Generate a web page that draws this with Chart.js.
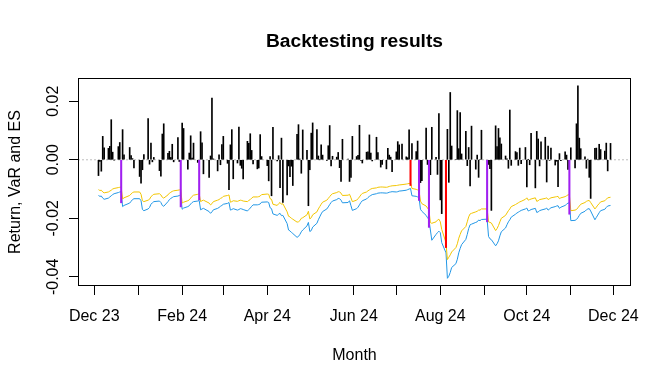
<!DOCTYPE html>
<html lang="en">
<head>
<meta charset="UTF-8">
<title>Backtesting results</title>
<script src="https://cdn.jsdelivr.net/npm/chart.js"></script>
<style>
  html, body { margin: 0; padding: 0; background: #fff; }
  #wrap { width: 672px; height: 384px; }
</style>
</head>
<body>
<div id="wrap"><canvas id="chart" width="672" height="384"></canvas></div>
<script>
// trading days shown in the backtest
const tradeDates = [
  "2023-12-04","2023-12-05","2023-12-06","2023-12-07","2023-12-08","2023-12-11","2023-12-12","2023-12-13","2023-12-14","2023-12-15","2023-12-18","2023-12-19","2023-12-20","2023-12-21","2023-12-22","2023-12-26","2023-12-27","2023-12-28","2023-12-29",
  "2024-01-02","2024-01-03","2024-01-04","2024-01-05","2024-01-08","2024-01-09","2024-01-10","2024-01-11","2024-01-12","2024-01-16","2024-01-17","2024-01-18","2024-01-19","2024-01-22","2024-01-23","2024-01-24","2024-01-25","2024-01-26","2024-01-29","2024-01-30","2024-01-31",
  "2024-02-01","2024-02-02","2024-02-05","2024-02-06","2024-02-07","2024-02-08","2024-02-09","2024-02-12","2024-02-13","2024-02-14","2024-02-15","2024-02-16","2024-02-20","2024-02-21","2024-02-22","2024-02-23","2024-02-26","2024-02-27","2024-02-28","2024-02-29",
  "2024-03-01","2024-03-04","2024-03-05","2024-03-06","2024-03-07","2024-03-08","2024-03-11","2024-03-12","2024-03-13","2024-03-14","2024-03-15","2024-03-18","2024-03-19","2024-03-20","2024-03-21","2024-03-22","2024-03-25","2024-03-26","2024-03-27","2024-03-28",
  "2024-04-01","2024-04-02","2024-04-03","2024-04-04","2024-04-05","2024-04-08","2024-04-09","2024-04-10","2024-04-11","2024-04-12","2024-04-15","2024-04-16","2024-04-17","2024-04-18","2024-04-19","2024-04-22","2024-04-23","2024-04-24","2024-04-25","2024-04-26","2024-04-29","2024-04-30",
  "2024-05-01","2024-05-02","2024-05-03","2024-05-06","2024-05-07","2024-05-08","2024-05-09","2024-05-10","2024-05-13","2024-05-14","2024-05-15","2024-05-16","2024-05-17","2024-05-20","2024-05-21","2024-05-22","2024-05-23","2024-05-24","2024-05-28","2024-05-29","2024-05-30","2024-05-31",
  "2024-06-03","2024-06-04","2024-06-05","2024-06-06","2024-06-07","2024-06-10","2024-06-11","2024-06-12","2024-06-13","2024-06-14","2024-06-17","2024-06-18","2024-06-20","2024-06-21","2024-06-24","2024-06-25","2024-06-26","2024-06-27","2024-06-28",
  "2024-07-01","2024-07-02","2024-07-03","2024-07-05","2024-07-08","2024-07-09","2024-07-10","2024-07-11","2024-07-12","2024-07-15","2024-07-16","2024-07-17","2024-07-18","2024-07-19","2024-07-22","2024-07-23","2024-07-24","2024-07-25","2024-07-26","2024-07-29","2024-07-30","2024-07-31",
  "2024-08-01","2024-08-02","2024-08-05","2024-08-06","2024-08-07","2024-08-08","2024-08-09","2024-08-12","2024-08-13","2024-08-14","2024-08-15","2024-08-16","2024-08-19","2024-08-20","2024-08-21","2024-08-22","2024-08-23","2024-08-26","2024-08-27","2024-08-28","2024-08-29","2024-08-30",
  "2024-09-03","2024-09-04","2024-09-05","2024-09-06","2024-09-09","2024-09-10","2024-09-11","2024-09-12","2024-09-13","2024-09-16","2024-09-17","2024-09-18","2024-09-19","2024-09-20","2024-09-23","2024-09-24","2024-09-25","2024-09-26","2024-09-27","2024-09-30",
  "2024-10-01","2024-10-02","2024-10-03","2024-10-04","2024-10-07","2024-10-08","2024-10-09","2024-10-10","2024-10-11","2024-10-14","2024-10-15","2024-10-16","2024-10-17","2024-10-18","2024-10-21","2024-10-22","2024-10-23","2024-10-24","2024-10-25","2024-10-28","2024-10-29","2024-10-30","2024-10-31",
  "2024-11-01","2024-11-04","2024-11-05","2024-11-06","2024-11-07","2024-11-08","2024-11-11","2024-11-12","2024-11-13","2024-11-14","2024-11-15","2024-11-18","2024-11-19","2024-11-20","2024-11-21","2024-11-22","2024-11-25","2024-11-26","2024-11-27","2024-11-29"
];

// daily returns
const returns = [
  -0.0054,-0.0006,-0.0039,0.0080,0.0041,0.0039,0.0046,0.0137,0.0026,-0.0001,0.0045,0.0059,-0.0147,0.0103,0.0017,0.0042,0.0014,0.0004,-0.0028,
  -0.0057,-0.0080,-0.0034,0.0018,0.0141,-0.0015,0.0057,-0.0007,0.0008,-0.0037,-0.0056,0.0088,0.0123,0.0022,0.0029,0.0008,0.0053,-0.0007,0.0076,-0.0006,-0.0161,
  0.0125,0.0107,-0.0032,0.0023,0.0082,0.0006,0.0057,-0.0009,-0.0137,0.0096,0.0058,-0.0048,-0.0060,0.0013,0.0211,0.0003,-0.0038,0.0017,-0.0017,0.0052,
  0.0080,-0.0012,-0.0102,0.0051,0.0103,-0.0065,-0.0011,0.0112,-0.0019,-0.0029,-0.0065,0.0063,0.0056,0.0089,0.0032,-0.0014,-0.0031,-0.0028,0.0086,0.0011,
  -0.0020,-0.0072,0.0011,-0.0123,0.0111,-0.0004,0.0014,-0.0095,0.0074,-0.0146,-0.0120,-0.0021,-0.0058,-0.0022,-0.0088,0.0087,0.0120,0.0002,-0.0046,0.0102,0.0032,-0.0157,
  -0.0034,0.0091,0.0126,0.0103,0.0013,0.0000,0.0051,0.0016,-0.0002,0.0048,0.0117,-0.0021,0.0012,0.0009,0.0025,-0.0027,-0.0074,0.0070,0.0002,-0.0074,-0.0060,0.0080,
  0.0011,0.0015,0.0118,-0.0002,-0.0011,0.0026,0.0027,0.0085,0.0023,-0.0004,0.0077,0.0025,-0.0025,-0.0016,-0.0031,0.0039,0.0016,0.0009,-0.0041,
  0.0027,0.0062,0.0051,0.0054,0.0010,0.0007,0.0102,-0.0088,0.0055,0.0028,0.0064,-0.0139,-0.0078,-0.0071,0.0108,-0.0016,-0.0231,-0.0051,0.0111,0.0008,-0.0050,0.0158,
  -0.0137,-0.0184,-0.0300,0.0104,-0.0077,0.0230,0.0047,0.0000,0.0168,0.0038,0.0161,0.0020,0.0097,-0.0020,0.0042,-0.0089,0.0115,-0.0032,0.0016,-0.0060,0.0000,0.0101,
  -0.0212,-0.0016,-0.0030,-0.0173,0.0116,0.0045,0.0107,0.0075,0.0054,0.0013,0.0003,-0.0029,0.0170,-0.0019,0.0028,0.0025,-0.0019,0.0040,-0.0013,0.0042,
  -0.0093,0.0001,-0.0017,0.0090,-0.0096,0.0097,0.0071,-0.0021,0.0061,0.0077,-0.0076,0.0047,-0.0002,0.0040,-0.0018,-0.0005,-0.0092,0.0021,-0.0003,0.0027,0.0016,-0.0033,-0.0186,
  0.0041,-0.0028,0.0123,0.0253,0.0074,0.0038,0.0010,-0.0029,0.0002,-0.0060,-0.0132,0.0039,0.0040,0.0000,0.0053,0.0035,0.0030,0.0057,-0.0038,0.0056
];

// value at risk forecast
const varLine = [
  -0.0102,-0.0105,-0.0104,-0.0110,-0.0113,-0.0110,-0.0107,-0.0104,-0.0100,-0.0098,-0.0095,-0.0094,-0.0093,-0.0134,-0.0130,-0.0122,-0.0117,-0.0112,-0.0110,
  -0.0110,-0.0118,-0.0140,-0.0143,-0.0138,-0.0135,-0.0126,-0.0122,-0.0118,-0.0116,-0.0120,-0.0128,-0.0131,-0.0120,-0.0114,-0.0111,-0.0108,-0.0106,-0.0104,-0.0103,-0.0102,
  -0.0148,-0.0145,-0.0140,-0.0137,-0.0131,-0.0125,-0.0121,-0.0118,-0.0116,-0.0143,-0.0140,-0.0138,-0.0148,-0.0154,-0.0150,-0.0143,-0.0138,-0.0136,-0.0132,-0.0130,
  -0.0125,-0.0122,-0.0120,-0.0145,-0.0143,-0.0140,-0.0142,-0.0140,-0.0138,-0.0139,-0.0141,-0.0143,-0.0139,-0.0136,-0.0131,-0.0127,-0.0127,-0.0126,-0.0124,-0.0119,
  -0.0117,-0.0118,-0.0133,-0.0135,-0.0152,-0.0156,-0.0150,-0.0146,-0.0152,-0.0150,-0.0178,-0.0193,-0.0195,-0.0200,-0.0203,-0.0213,-0.0212,-0.0208,-0.0200,-0.0198,-0.0188,-0.0176,
  -0.0202,-0.0198,-0.0188,-0.0178,-0.0168,-0.0160,-0.0152,-0.0145,-0.0138,-0.0132,-0.0126,-0.0120,-0.0116,-0.0112,-0.0109,-0.0110,-0.0114,-0.0122,-0.0121,-0.0118,-0.0130,-0.0143,
  -0.0138,-0.0133,-0.0127,-0.0120,-0.0115,-0.0110,-0.0106,-0.0103,-0.0100,-0.0098,-0.0096,-0.0094,-0.0093,-0.0093,-0.0094,-0.0093,-0.0091,-0.0090,-0.0089,
  -0.0088,-0.0087,-0.0086,-0.0085,-0.0083,-0.0082,-0.0081,-0.0080,-0.0098,-0.0101,-0.0103,-0.0106,-0.0141,-0.0150,-0.0158,-0.0165,-0.0172,-0.0215,-0.0217,-0.0212,-0.0206,-0.0203,
  -0.0212,-0.0238,-0.0283,-0.0341,-0.0333,-0.0325,-0.0315,-0.0300,-0.0287,-0.0268,-0.0255,-0.0243,-0.0228,-0.0212,-0.0195,-0.0185,-0.0183,-0.0178,-0.0176,-0.0172,-0.0172,-0.0168,
  -0.0168,-0.0212,-0.0214,-0.0216,-0.0242,-0.0235,-0.0225,-0.0212,-0.0200,-0.0190,-0.0182,-0.0174,-0.0168,-0.0160,-0.0153,-0.0150,-0.0147,-0.0144,-0.0142,-0.0135,
  -0.0130,-0.0138,-0.0136,-0.0134,-0.0130,-0.0142,-0.0140,-0.0136,-0.0135,-0.0132,-0.0130,-0.0136,-0.0133,-0.0130,-0.0127,-0.0126,-0.0125,-0.0133,-0.0130,-0.0126,-0.0123,-0.0120,-0.0119,
  -0.0174,-0.0172,-0.0170,-0.0164,-0.0158,-0.0152,-0.0146,-0.0142,-0.0140,-0.0139,-0.0146,-0.0168,-0.0162,-0.0155,-0.0150,-0.0144,-0.0140,-0.0135,-0.0130,-0.0128
];

// expected shortfall forecast
const esLine = [
  -0.0122,-0.0125,-0.0124,-0.0131,-0.0135,-0.0131,-0.0127,-0.0123,-0.0119,-0.0116,-0.0112,-0.0110,-0.0109,-0.0160,-0.0156,-0.0148,-0.0142,-0.0136,-0.0133,
  -0.0133,-0.0140,-0.0170,-0.0174,-0.0168,-0.0163,-0.0152,-0.0147,-0.0143,-0.0141,-0.0146,-0.0156,-0.0159,-0.0143,-0.0136,-0.0132,-0.0129,-0.0126,-0.0124,-0.0122,-0.0121,
  -0.0169,-0.0165,-0.0160,-0.0157,-0.0151,-0.0146,-0.0143,-0.0141,-0.0139,-0.0171,-0.0168,-0.0166,-0.0177,-0.0183,-0.0178,-0.0171,-0.0166,-0.0163,-0.0159,-0.0156,
  -0.0152,-0.0149,-0.0146,-0.0172,-0.0170,-0.0167,-0.0172,-0.0170,-0.0167,-0.0168,-0.0170,-0.0175,-0.0170,-0.0165,-0.0159,-0.0154,-0.0154,-0.0153,-0.0151,-0.0145,
  -0.0144,-0.0146,-0.0164,-0.0167,-0.0185,-0.0190,-0.0186,-0.0183,-0.0191,-0.0190,-0.0218,-0.0240,-0.0243,-0.0248,-0.0252,-0.0265,-0.0262,-0.0255,-0.0246,-0.0240,-0.0226,-0.0214,
  -0.0245,-0.0242,-0.0230,-0.0217,-0.0205,-0.0195,-0.0185,-0.0177,-0.0168,-0.0161,-0.0153,-0.0146,-0.0141,-0.0136,-0.0132,-0.0133,-0.0138,-0.0147,-0.0146,-0.0140,-0.0157,-0.0173,
  -0.0167,-0.0162,-0.0154,-0.0146,-0.0140,-0.0134,-0.0129,-0.0125,-0.0122,-0.0119,-0.0116,-0.0114,-0.0113,-0.0113,-0.0114,-0.0113,-0.0111,-0.0110,-0.0109,
  -0.0110,-0.0109,-0.0107,-0.0106,-0.0104,-0.0102,-0.0100,-0.0098,-0.0123,-0.0125,-0.0127,-0.0129,-0.0169,-0.0176,-0.0190,-0.0198,-0.0204,-0.0240,-0.0275,-0.0255,-0.0249,-0.0244,
  -0.0249,-0.0283,-0.0318,-0.0405,-0.0398,-0.0385,-0.0368,-0.0355,-0.0340,-0.0318,-0.0303,-0.0290,-0.0272,-0.0255,-0.0235,-0.0222,-0.0220,-0.0214,-0.0212,-0.0206,-0.0208,-0.0204,
  -0.0203,-0.0262,-0.0270,-0.0273,-0.0294,-0.0287,-0.0277,-0.0260,-0.0246,-0.0233,-0.0222,-0.0212,-0.0205,-0.0196,-0.0186,-0.0182,-0.0179,-0.0176,-0.0173,-0.0168,
  -0.0165,-0.0175,-0.0173,-0.0170,-0.0166,-0.0180,-0.0178,-0.0174,-0.0172,-0.0168,-0.0165,-0.0172,-0.0168,-0.0164,-0.0160,-0.0158,-0.0157,-0.0166,-0.0162,-0.0156,-0.0152,-0.0148,-0.0147,
  -0.0208,-0.0207,-0.0204,-0.0198,-0.0190,-0.0183,-0.0176,-0.0171,-0.0168,-0.0167,-0.0175,-0.0205,-0.0197,-0.0189,-0.0181,-0.0174,-0.0169,-0.0163,-0.0158,-0.0156
];

// days where the return fell below the ES (purple) or only below the VaR (red)
const esBreaches = ["2023-12-20","2024-01-31","2024-02-13","2024-07-17","2024-07-24","2024-09-03","2024-10-31"];
const varBreaches = ["2024-07-11","2024-08-05"];

// axis ticks
const monthTicks = ["2023-12-01","2024-01-01","2024-02-01","2024-03-01","2024-04-01","2024-05-01","2024-06-01","2024-07-01","2024-08-01","2024-09-01","2024-10-01","2024-11-01","2024-12-01"];
const monthLabels = ["Dec 23","","Feb 24","","Apr 24","","Jun 24","","Aug 24","","Oct 24","","Dec 24"];
const yTicks = [-0.04, -0.03, -0.02, -0.01, 0, 0.01, 0.02];
const yLabels = ["-0.04", "", "-0.02", "", "0.00", "", "0.02"];

const FONT = "'Liberation Sans', Arial, sans-serif";
Chart.defaults.font.family = FONT;
Chart.defaults.font.size = 16;
Chart.defaults.color = '#000';

// day number counted from 1 Dec 2023
const origin = Date.parse('2023-12-01');
function dayNum(d) { return (Date.parse(d) - origin) / 86400000; }

const xs = tradeDates.map(dayNum);

// R style axis limits: data range plus 4% on each side
const xLo = Math.min(...xs), xHi = Math.max(...xs);
const xMin = xLo - 0.04 * (xHi - xLo), xMax = xHi + 0.04 * (xHi - xLo);
const allY = returns.concat(varLine, esLine);
const yLo = Math.min(...allY), yHi = Math.max(...allY);
const yMin = yLo - 0.04 * (yHi - yLo), yMax = yHi + 0.04 * (yHi - yLo);

const plainBars = [], breachBars = [], breachColors = [];
tradeDates.forEach((d, i) => {
    const pt = { x: xs[i], y: returns[i] };
    if (esBreaches.includes(d)) { breachBars.push(pt); breachColors.push('#A020F0'); }
    else if (varBreaches.includes(d)) { breachBars.push(pt); breachColors.push('#FF0000'); }
    else plainBars.push(pt);
});

// box around the plot region, like R's box()
const frame = {
    id: 'frame',
    afterDraw(chart) {
        const { ctx, chartArea: a } = chart;
        ctx.save();
        ctx.strokeStyle = '#000';
        ctx.lineWidth = 1;
        ctx.strokeRect(Math.round(a.left) + 0.5, Math.round(a.top) + 0.5,
            Math.round(a.right - a.left) - 1, Math.round(a.bottom - a.top) - 1);
        ctx.restore();
    }
};

new Chart(document.getElementById('chart'), {
    type: 'line',
    data: {
        datasets: [
            {
                label: 'zero',
                data: [{ x: xMin, y: 0 }, { x: xMax, y: 0 }],
                borderColor: '#BEBEBE',
                borderWidth: 1,
                borderDash: [2, 2],
                pointRadius: 0,
                order: 4
            },
            {
                type: 'bar',
                label: 'Return',
                data: plainBars,
                backgroundColor: '#000',
                barThickness: 1,
                grouped: false,
                order: 3
            },
            {
                label: 'VaR',
                data: xs.map((x, i) => ({ x: x, y: varLine[i] })),
                borderColor: '#F2C500',
                borderWidth: 1,
                pointRadius: 0,
                tension: 0,
                order: 2
            },
            {
                label: 'ES',
                data: xs.map((x, i) => ({ x: x, y: esLine[i] })),
                borderColor: '#2297E6',
                borderWidth: 1,
                pointRadius: 0,
                tension: 0,
                order: 2
            },
            {
                type: 'bar',
                label: 'Breach',
                data: breachBars,
                backgroundColor: breachColors,
                barThickness: 1.4,
                grouped: false,
                order: 1
            }
        ]
    },
    options: {
        responsive: false,
        animation: false,
        events: [],
        layout: { padding: { left: 0, right: 41, top: 0, bottom: 0 } },
        plugins: {
            legend: { display: false },
            tooltip: { enabled: false },
            title: {
                display: true,
                fullSize: false,
                text: 'Backtesting results',
                color: '#000',
                font: { family: FONT, size: 19.2, weight: 'bold', lineHeight: 1.2 },
                padding: { top: 30.5, bottom: 24.5 }
            }
        },
        scales: {
            x: {
                type: 'linear',
                min: xMin,
                max: xMax,
                offset: false,
                afterBuildTicks: s => { s.ticks = monthTicks.map(d => ({ value: dayNum(d) })); },
                afterFit: s => { s.height = 98; },
                ticks: {
                    autoSkip: false,
                    maxRotation: 0,
                    minRotation: 0,
                    padding: 12,
                    callback: (v, i) => monthLabels[i]
                },
                grid: { offset: false, drawOnChartArea: false, tickLength: 9, color: '#000' },
                border: { display: false },
                title: { display: true, text: 'Month', padding: { top: 0, bottom: 18.5 } }
            },
            y: {
                type: 'linear',
                min: yMin,
                max: yMax,
                afterBuildTicks: s => { s.ticks = yTicks.map(v => ({ value: v })); },
                afterFit: s => { s.width = 78; },
                ticks: {
                    minRotation: 90,
                    maxRotation: 90,
                    crossAlign: 'center',
                    padding: -3,
                    callback: (v, i) => yLabels[i]
                },
                grid: { drawOnChartArea: false, tickLength: 9, color: '#000' },
                border: { display: false },
                title: { display: true, text: 'Return, VaR and ES', padding: { top: 6, bottom: 0 } }
            }
        }
    },
    plugins: [frame]
});
</script>
</body>
</html>
